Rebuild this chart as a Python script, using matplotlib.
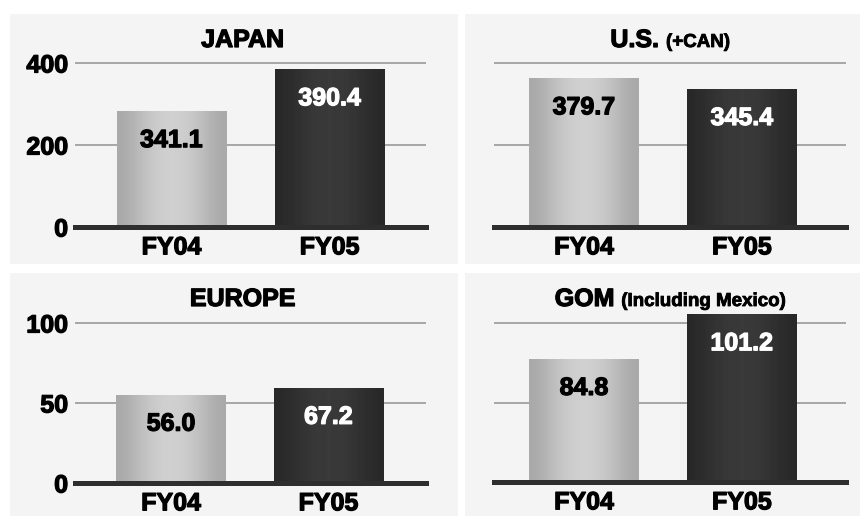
import numpy as np
import matplotlib
matplotlib.use("Agg")
import matplotlib.pyplot as plt
import matplotlib.patheffects as pe
from matplotlib.patches import Rectangle

plt.rcParams['font.family'] = ['Liberation Sans', 'DejaVu Sans']
plt.rcParams['font.weight'] = 'bold'

# data
years = ['FY04', 'FY05']
regions = ['JAPAN', 'U.S.', 'EUROPE', 'GOM']
region_notes = ['', '(+CAN)', '', '(Including Mexico)']
value_labels = [['341.1', '390.4'], ['379.7', '345.4'], ['56.0', '67.2'], ['84.8', '101.2']]
bar_heights = [[283, 385], [363, 337], [55.3, 59.6], [77.5, 105.6]]
y_ticks = [[0, 200, 400], [0, 200, 400], [0, 50, 100], [0, 50, 100]]
show_ytick_labels = [True, False, True, False]

W, H = 861, 516
fig = plt.figure(figsize=(W / 100, H / 100), dpi=100)
fig.patch.set_facecolor('white')

def fx(px):
    return px / W

def fy(py):
    return 1 - py / H

def heavy(color, w=0.9):
    # a thin outline in the same colour makes the bold face look heavier
    return [pe.withStroke(linewidth=w, foreground=color)]

# light grey panels behind each chart
panels = [(10, 14, 458, 264), (465, 14, 860, 264), (10, 273, 458, 516), (465, 273, 860, 516)]
for x0, y0, x1, y1 in panels:
    fig.patches.append(Rectangle((fx(x0), fy(y1)), fx(x1 - x0), (y1 - y0) / H,
                                 transform=fig.transFigure, facecolor='#f4f4f4',
                                 edgecolor='none', zorder=-5))

# axes boxes: left, right, grid-top, baseline (pixels)
boxes = [(75, 426, 63, 227), (494, 846, 63, 227), (75, 426, 323, 483), (494, 846, 323, 482)]
xlims = [(-0.61, 1.61), (-0.57, 1.66), (-0.61, 1.62), (-0.57, 1.66)]
title_y = [47, 47, 306, 306]

light = np.array([0.66, 0.74, 0.80, 0.82, 0.80, 0.74, 0.66])
dark = np.array([0.16, 0.19, 0.22, 0.23, 0.22, 0.19, 0.16])

fig.canvas.draw()
renderer = fig.canvas.get_renderer()

for i in range(4):
    left, right, gtop, base = boxes[i]
    top_px = 45
    ymax = y_ticks[i][-1] * (base - top_px) / (base - gtop)
    ax = fig.add_axes([fx(left), fy(base), fx(right - left), (base - top_px) / H])
    ax.set_zorder(1)
    ax.set_facecolor('none')
    ax.set_xlim(*xlims[i])
    ax.set_ylim(0, ymax)
    for s in ax.spines.values():
        s.set_visible(False)

    for t in y_ticks[i][1:]:
        ax.axhline(t, color='#a0a0a0', lw=1.3, zorder=1)

    bars = ax.bar([0, 1], bar_heights[i], width=0.694, color='none', zorder=2)
    for j, b in enumerate(bars):
        shade = light if j == 0 else dark
        grad = np.tile(shade, (2, 1))
        x0 = b.get_x()
        im = ax.imshow(grad, cmap='gray', vmin=0, vmax=1, aspect='auto',
                       extent=(x0, x0 + b.get_width(), 0, b.get_height()),
                       interpolation='bicubic', zorder=2)
        im.set_clip_path(b)
        col = 'black' if j == 0 else 'white'
        ax.annotate(value_labels[i][j], (b.get_x() + b.get_width() / 2, b.get_height()),
                    xytext=(0, -21), textcoords='offset points', ha='center', va='center',
                    fontsize=18, fontweight='bold', color=col, zorder=4,
                    path_effects=heavy(col))
    ax.set_xlim(*xlims[i])
    ax.set_ylim(0, ymax)

    ax.axhline(0, color='#2e2e2e', lw=3.6, zorder=3, clip_on=False)

    ax.set_xticks([0, 1])
    ax.set_xticklabels(years, fontsize=18, fontweight='bold')
    ax.set_yticks(y_ticks[i])
    ax.set_yticklabels([str(t) for t in y_ticks[i]], fontsize=18, fontweight='bold')
    for lab in ax.get_xticklabels() + ax.get_yticklabels():
        lab.set_path_effects(heavy('black'))
    ax.tick_params(axis='x', length=0, pad=6)
    ax.tick_params(axis='y', length=0, pad=5, labelleft=show_ytick_labels[i])

    # title with an optional smaller note
    cx = (left + right) / 2 - (8 if i % 2 == 0 else 0)
    main = fig.text(0, fy(title_y[i]), regions[i], fontsize=18, fontweight='bold',
                    ha='left', va='baseline', path_effects=heavy('black'))
    w1 = main.get_window_extent(renderer).width
    if region_notes[i]:
        note = fig.text(0, fy(title_y[i]), region_notes[i], fontsize=13.5,
                        fontweight='bold', ha='left', va='baseline',
                        path_effects=heavy('black', 0.6))
        w2 = note.get_window_extent(renderer).width
        gap = 7
        start = cx - (w1 + gap + w2) / 2
        main.set_x(fx(start))
        note.set_x(fx(start + w1 + gap))
    else:
        main.set_x(fx(cx - w1 / 2))

fig.savefig('out.png', dpi=100, facecolor='white')
